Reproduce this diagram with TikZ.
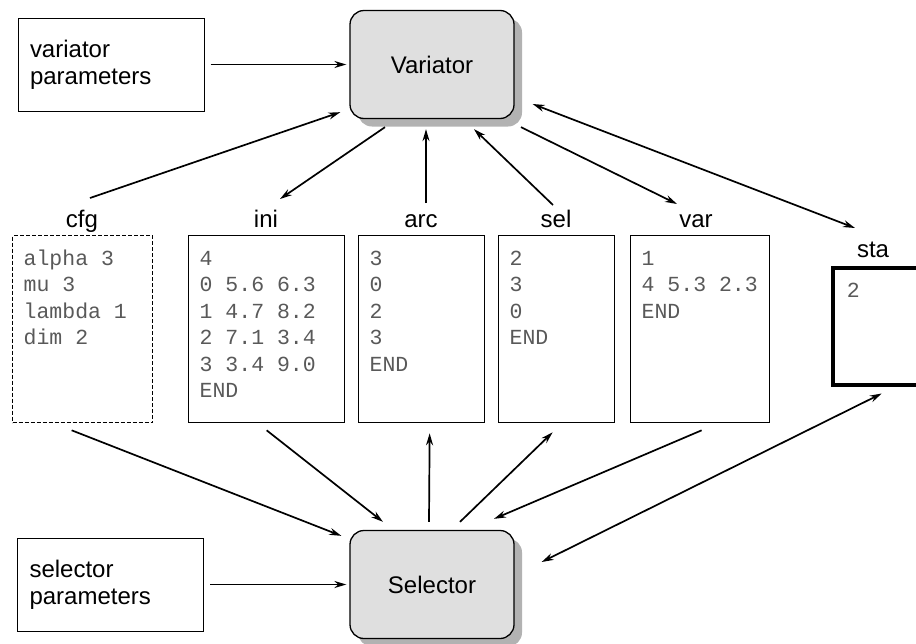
\documentclass[tikz,border=0pt]{standalone}
\usepackage{fontspec}
\setmainfont{Liberation Sans}
\newfontfamily\datafont{Liberation Mono}
\usetikzlibrary{arrows.meta,shadows}

\newcommand{\filetext}[2]{\parbox[t][165pt][t]{#1}{\datafont\fontsize{21.5}{26.5}\selectfont\color{black!65}\strut #2}}

\begin{document}
\begin{tikzpicture}[x=1pt,y=-1pt,>={Stealth[length=12pt,width=7pt]},
  every node/.style={font=\fontsize{24}{27}\selectfont},
  parambox/.style={draw, line width=1pt, minimum width=186pt, minimum height=93pt, text width=162pt, align=left, inner xsep=12pt},
  module/.style={draw, line width=1.3pt, rounded corners=14pt, fill=gray!25, minimum width=164pt, minimum height=108pt,
    drop shadow={shadow xshift=8pt, shadow yshift=-8pt, fill=gray!60, opacity=1}},
  filebox/.style={draw, line width=1.3pt, inner sep=11pt, anchor=north west},
  filelabel/.style={inner sep=0pt, anchor=base},
  conn/.style={->, line width=1.7pt}]
\useasboundingbox (0,0) rectangle (916,643);

\node[parambox] (vparam) at (111,64.5) {variator\\parameters};
\node[module] (variator) at (432,64.5) {Variator};

\node[filelabel] (cfglab) at (82,227) {cfg};
\node[filelabel] (inilab) at (266,227) {ini};
\node[filelabel] (arclab) at (421,227) {arc};
\node[filelabel] (sellab) at (556,227) {sel};
\node[filelabel] (varlab) at (696,227) {var};
\node[filelabel] (stalab) at (873,257) {sta};

\node[filebox, dash pattern=on 4pt off 2pt] (cfg) at (12,235) {\filetext{118pt}{alpha 3\\mu 3\\lambda 1\\dim 2}};
\node[filebox] (ini) at (188,235) {\filetext{134pt}{4\\0 5.6 6.3\\1 4.7 8.2\\2 7.1 3.4\\3 3.4 9.0\\END}};
\node[filebox] (arc) at (358,235) {\filetext{104pt}{3\\0\\2\\3\\END}};
\node[filebox] (sel) at (498,235) {\filetext{94pt}{2\\3\\0\\END}};
\node[filebox] (var) at (630,235) {\filetext{117pt}{1\\4 5.3 2.3\\END}};
\node[filebox, line width=3.5pt, inner xsep=14pt] (sta) at (831,266) {\parbox[t][95pt][t]{59pt}{\datafont\fontsize{21.5}{26.5}\selectfont\color{black!65}\strut 2}};

\node[parambox] (sparam) at (110.5,584.5) {selector\\parameters};
\node[module] (selector) at (432,584.5) {Selector};

\draw[conn, shorten <=6pt, shorten >=3pt] (vparam) -- (variator);
\draw[conn] ([xshift=8pt,yshift=29pt]cfglab.base) -- ([xshift=-9pt,yshift=7pt]variator.south west);
\draw[conn] ([xshift=-47pt,yshift=-8pt]variator.south) -- ([xshift=14pt,yshift=28pt]inilab.base);
\draw[conn] ([xshift=5pt,yshift=24pt]arclab.base) -- ([xshift=-6pt,yshift=-10pt]variator.south);
\draw[conn] ([xshift=-3pt,yshift=22pt]sellab.base) -- ([xshift=42pt,yshift=-10pt]variator.south);
\draw[conn] ([xshift=89pt,yshift=-8pt]variator.south) -- ([xshift=-19pt,yshift=23pt]varlab.base);
\draw[conn, <->] ([xshift=18pt,yshift=-39.5pt]variator.east) -- ([xshift=-18pt,yshift=29pt]stalab.base);

\draw[conn] ([xshift=-11pt,yshift=-7pt]cfg.south) -- ([xshift=-8pt,yshift=-6pt]selector.north west);
\draw[conn] ([yshift=-7pt]ini.south) -- ([xshift=-49pt,yshift=8pt]selector.north);
\draw[conn] ([xshift=-3pt,yshift=8pt]selector.north) -- ([xshift=8pt,yshift=-10pt]arc.south);
\draw[conn] ([xshift=28pt,yshift=8pt]selector.north) -- ([xshift=-4pt,yshift=-9pt]sel.south);
\draw[conn] ([xshift=1.5pt,yshift=-7pt]var.south) -- ([xshift=62pt,yshift=11pt]selector.north);
\draw[conn, <->] ([xshift=27pt,yshift=22.5pt]selector.east) -- ([xshift=5.5pt,yshift=-7pt]sta.south);
\draw[conn, shorten <=6pt, shorten >=3pt] (sparam) -- (selector);
\end{tikzpicture}
\end{document}
